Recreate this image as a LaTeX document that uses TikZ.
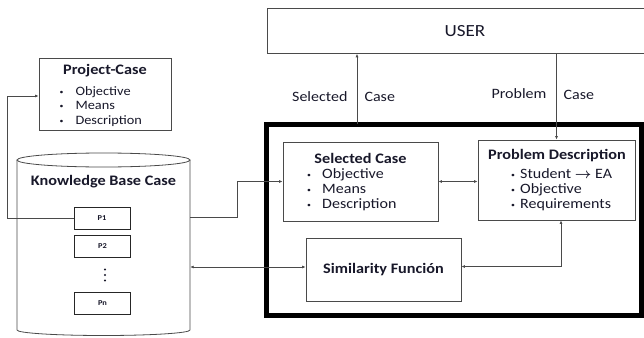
\documentclass[tikz,border=0pt]{standalone}
\usepackage{fontspec}
\setmainfont{Carlito}[FakeStretch=1.12]
\usetikzlibrary{arrows.meta}
\definecolor{ink}{HTML}{18182A}
\definecolor{wire}{HTML}{4A4A4A}
\tikzset{
  box/.style={draw=wire, line width=0.8pt, fill=white, inner sep=0pt},
  pbox/.style={draw=black!85, line width=0.8pt, minimum width=56pt, minimum height=22pt, inner sep=0pt, font=\fontsize{7.5}{8}\selectfont\bfseries, text=ink},
  arr/.style={draw=wire, line width=0.8pt, -{Latex[length=3.5pt,width=3pt]}},
  arrboth/.style={draw=wire, line width=0.8pt, {Latex[length=3.5pt,width=3pt]}-{Latex[length=3.5pt,width=3pt]}},
  body/.style={font=\fontsize{14.3}{15}\selectfont, text=ink},
  smallbody/.style={font=\fontsize{12.8}{14.5}\selectfont, text=ink},
  title/.style={font=\fontsize{14.5}{15}\selectfont\bfseries, text=ink},
  dot/.style={circle, fill=ink, inner sep=0pt, minimum size=2.2pt},
}
\newcommand{\itm}[1]{\makebox[#1][l]{\raisebox{1pt}{\scriptsize\textbullet}}}
\begin{document}
\begin{tikzpicture}[x=1pt,y=-1pt]
\useasboundingbox (0,0) rectangle (644,337);
\clip (0,0) rectangle (644,337);

% user panel, running off the right edge
\node[box, minimum width=380pt, minimum height=45pt, anchor=north west] (user) at (267,8) {};
\node[font=\fontsize{17}{20}\selectfont, text=ink] at (465,31) {USER};

% project case card
\node[box, minimum width=132pt, minimum height=72pt] (pc) at (105,94) {};
\node[title] at (105,71) {Project-Case};
\node[smallbody, anchor=west, align=left] at (56,106.5) {\itm{16pt}Objective\\\itm{16pt}Means\\\itm{16pt}Description};

% knowledge base cylinder
\draw[wire, line width=0.8pt, fill=white] (17,160) -- (17,330) arc (180:0:86.5 and 5.5) -- (190,160);
\draw[wire, line width=0.8pt] (103.5,160) ellipse (86.5 and 7);
\node[inner sep=0pt, minimum width=173pt, minimum height=175pt] (kb) at (103.5,245) {};
\node[title] at (103.5,182) {Knowledge Base Case};
\node[pbox] (p1) at (102,218) {P1};
\node[pbox] (p2) at (102.5,246) {P2};
\node[dot] (d1) at (105,269.5) {};
\node[dot] (d2) at (105,275) {};
\node[dot] (d3) at (105,280.5) {};
\node[pbox] (pn) at (102.5,303) {Pn};

% reasoning module frame
\node[draw=black, line width=5pt, minimum width=375pt, minimum height=191pt, inner sep=0pt] (sys) at (453.5,219.5) {};

\node[box, minimum width=155pt, minimum height=79pt] (sel) at (360.5,181.5) {};
\node[title] at (360.5,158.5) {Selected Case};
\node[body, anchor=west, align=left, inner sep=0pt] at (307,189.5) {\itm{15pt}Objective\\\itm{15pt}Means\\\itm{15pt}Description};

\node[box, minimum width=157pt, minimum height=80pt] (pd) at (556.5,180) {};
\node[title] at (557,155.5) {Problem Description};
\node[body, anchor=west, align=left, inner sep=0pt] at (511,189.5) {\itm{9pt}Student {\boldmath$\rightarrow$} EA\\\itm{9pt}Objective\\\itm{9pt}Requirements};

\node[box, minimum width=155pt, minimum height=63pt] (sim) at (383.5,269.5) {};
\node[title] at (383.5,270) {Similarity Función};

% connectors
\draw[arr] (p1.west) -- ++(-66,0) |- ([yshift=-2pt]pc.west);
\draw[arr] ([yshift=1pt]kb.east |- p1) -- ++(47,0) |- (sel.west);
\draw[arrboth] (sel.east) -- (pd.west |- sel.east);
\draw[arrboth] ([yshift=2.5pt]kb.east |- sim.west) -- ([yshift=2.5pt]sim.west);
\draw[arrboth] ([yshift=3pt]sim.east) -| ([xshift=4.5pt]pd.south);
\coordinate (selup) at (357,124);
\draw[arr] (selup) -- (selup |- user.south);
\draw[arr] (user.south -| pd.north) -- (pd.north);

% flow labels
\node[body, anchor=east] at (351,97) {Selected};
\node[body, anchor=west] at (361,97) {Case};
\node[body, anchor=east] at (550,94) {Problem};
\node[body, anchor=west] at (560,95) {Case};
\end{tikzpicture}
\end{document}
